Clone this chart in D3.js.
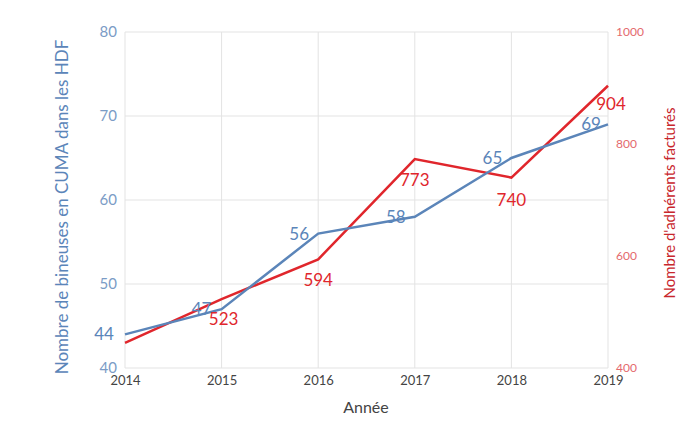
<!DOCTYPE html>
<html><head><meta charset="utf-8">
<script src="https://cdn.jsdelivr.net/npm/d3@7"></script>
<style>body{margin:0;background:#fff}svg{display:block}text{font-family:Lato,"Open Sans",sans-serif}</style>
</head><body><svg id="c" width="700" height="433"></svg>
<script>
const years = [2014, 2015, 2016, 2017, 2018, 2019];
const bineuses = [44, 47, 56, 58, 65, 69];
const adherents = [445, 523, 594, 773, 740, 904];
const adherentLabels = [null, 523, 594, 773, 740, 904];
const leftTicks = [40, 50, 60, 70, 80];
const rightTicks = [400, 600, 800, 1000];

const blue = "#5b85b9", red = "#e0262c";
const svg = d3.select("#c");
const x = d3.scaleLinear().domain([2014, 2019]).range([125, 608]);
const yL = d3.scaleLinear().domain([40, 80]).range([368, 32]);
const yR = d3.scaleLinear().domain([400, 1000]).range([368, 32]);

// grid
const g = svg.append("g");
g.selectAll(".vg").data(years).join("line")
  .attr("x1", d => x(d)).attr("x2", d => x(d)).attr("y1", 32).attr("y2", 368)
  .attr("stroke", "#e3e3e3").attr("stroke-width", 1);
g.selectAll(".hg").data(leftTicks).join("line")
  .attr("x1", 125).attr("x2", 608).attr("y1", d => yL(d)).attr("y2", d => yL(d))
  .attr("stroke", "#e3e3e3").attr("stroke-width", 1);

// axes
const axL = d3.axisLeft(yL).tickValues(leftTicks).tickSize(0).tickPadding(8);
const gl = svg.append("g").attr("transform", "translate(125,0)").call(axL);
gl.select(".domain").remove();
gl.selectAll("text").attr("fill", "#7b9cc6").attr("font-size", 15);

const axR = d3.axisRight(yR).tickValues(rightTicks).tickFormat(d3.format("d")).tickSize(0).tickPadding(8);
const gr = svg.append("g").attr("transform", "translate(608,0)").call(axR);
gr.select(".domain").remove();
gr.selectAll("text").attr("fill", "#e46a6e").attr("font-size", 12);

const axB = d3.axisBottom(x).tickValues(years).tickFormat(d3.format("d")).tickSize(0).tickPadding(8);
const gb = svg.append("g").attr("transform", "translate(0,368)").call(axB);
gb.select(".domain").remove();
gb.selectAll("text").attr("fill", "#444").attr("font-size", 13);

svg.append("text").attr("x", 366).attr("y", 413).attr("text-anchor", "middle")
  .attr("fill", "#444").attr("font-size", 16).text("Année");
svg.append("text").attr("transform", "translate(68,207) rotate(-90)").attr("text-anchor", "middle")
  .attr("fill", blue).attr("font-size", 17).text("Nombre de bineuses en CUMA dans les HDF");
svg.append("text").attr("transform", "translate(675,203) rotate(-90)").attr("text-anchor", "middle")
  .attr("fill", "#c8262c").attr("font-size", 15).text("Nombre d'adhérents facturés");

// lines
svg.append("path").datum(years.map((d, i) => [d, adherents[i]]))
  .attr("d", d3.line().x(d => x(d[0])).y(d => yR(d[1])))
  .attr("fill", "none").attr("stroke", red).attr("stroke-width", 2.5);
svg.append("path").datum(years.map((d, i) => [d, bineuses[i]]))
  .attr("d", d3.line().x(d => x(d[0])).y(d => yL(d[1])))
  .attr("fill", "none").attr("stroke", blue).attr("stroke-width", 2.5);

// labels
const bOff = [[-21, 6], [-20, 6], [-19, 6], [-19, 6], [-19, 6], [-17, 6]];
svg.selectAll(".bl").data(years).join("text")
  .attr("x", (d, i) => x(d) + bOff[i][0]).attr("y", (d, i) => yL(bineuses[i]) + bOff[i][1])
  .attr("text-anchor", "middle").attr("fill", blue).attr("font-size", 17).text((d, i) => bineuses[i]);
const rOff = [[0, 0], [2, 26], [0, 27], [0, 27], [0, 28], [3, 24]];
svg.selectAll(".rl").data(years.filter((d, i) => adherentLabels[i] !== null)).join("text")
  .attr("x", d => x(d) + rOff[years.indexOf(d)][0])
  .attr("y", d => yR(adherents[years.indexOf(d)]) + rOff[years.indexOf(d)][1])
  .attr("text-anchor", "middle").attr("fill", red).attr("font-size", 17)
  .text(d => adherentLabels[years.indexOf(d)]);
</script></body></html>
